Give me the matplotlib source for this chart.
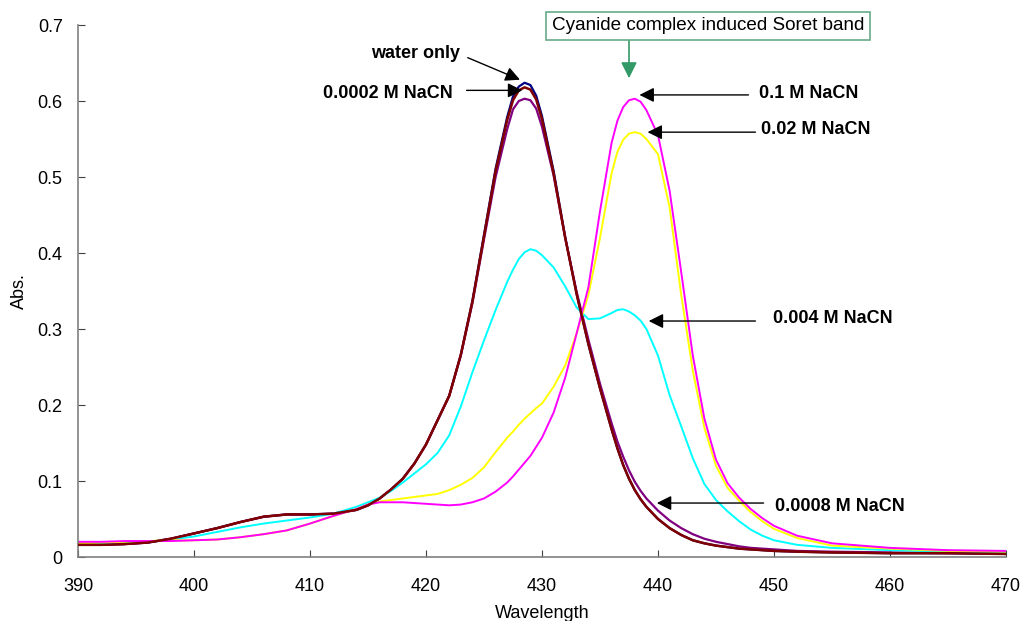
import numpy as np
import matplotlib
matplotlib.use("Agg")
import matplotlib.pyplot as plt

plt.rcParams['font.family'] = ['Liberation Sans', 'DejaVu Sans']

# wavelength grid (nm)
wavelength = [390, 392, 394, 396, 398, 400, 402, 404, 406, 408, 410, 412, 414,
              415, 416, 417, 418, 419, 420, 421, 422, 423, 424, 425, 426, 427,
              427.5, 428, 428.5, 429, 429.5, 430, 431, 432, 433, 434, 435, 436,
              436.5, 437, 437.5, 438, 438.5, 439, 440, 441, 442, 443, 444, 445,
              446, 447, 448, 449, 450, 452, 455, 460, 465, 470]

# absorbance per sample
water_only = [0.016, 0.016, 0.017, 0.019, 0.024, 0.031, 0.038, 0.046, 0.053, 0.056, 0.056, 0.057, 0.062,
              0.068, 0.077, 0.089, 0.103, 0.123, 0.148, 0.180, 0.212, 0.266, 0.337, 0.424, 0.511, 0.579,
              0.606, 0.619, 0.624, 0.621, 0.607, 0.580, 0.508, 0.421, 0.345, 0.280, 0.222, 0.168,
              0.143, 0.121, 0.103, 0.088, 0.076, 0.066, 0.050, 0.038, 0.029, 0.022, 0.018, 0.015,
              0.013, 0.011, 0.010, 0.009, 0.008, 0.007, 0.006, 0.005, 0.005, 0.004]
nacn_00002 = [0.016, 0.016, 0.017, 0.019, 0.024, 0.031, 0.038, 0.046, 0.053, 0.056, 0.056, 0.057, 0.062,
              0.068, 0.077, 0.089, 0.103, 0.123, 0.148, 0.180, 0.212, 0.266, 0.336, 0.422, 0.508, 0.575,
              0.601, 0.614, 0.618, 0.615, 0.602, 0.576, 0.505, 0.420, 0.345, 0.280, 0.222, 0.168,
              0.143, 0.121, 0.103, 0.088, 0.076, 0.066, 0.050, 0.038, 0.029, 0.022, 0.018, 0.015,
              0.013, 0.011, 0.010, 0.009, 0.008, 0.007, 0.006, 0.005, 0.005, 0.004]
nacn_00008 = [0.016, 0.016, 0.017, 0.019, 0.024, 0.031, 0.038, 0.046, 0.053, 0.056, 0.056, 0.057, 0.062,
              0.068, 0.077, 0.089, 0.103, 0.123, 0.148, 0.180, 0.212, 0.265, 0.334, 0.418, 0.500, 0.563,
              0.589, 0.600, 0.603, 0.601, 0.590, 0.566, 0.502, 0.420, 0.348, 0.286, 0.228, 0.176,
              0.152, 0.132, 0.114, 0.099, 0.087, 0.077, 0.061, 0.048, 0.038, 0.030, 0.024, 0.020,
              0.017, 0.014, 0.012, 0.011, 0.010, 0.008, 0.007, 0.006, 0.005, 0.005]
nacn_0004 = [0.018, 0.018, 0.019, 0.020, 0.023, 0.027, 0.033, 0.039, 0.044, 0.048, 0.052, 0.057, 0.066,
             0.072, 0.078, 0.087, 0.098, 0.110, 0.122, 0.137, 0.160, 0.198, 0.243, 0.285, 0.325, 0.362,
             0.378, 0.392, 0.401, 0.405, 0.403, 0.397, 0.381, 0.356, 0.328, 0.313, 0.314, 0.321,
             0.325, 0.326, 0.323, 0.318, 0.311, 0.300, 0.265, 0.213, 0.172, 0.130, 0.096, 0.075,
             0.060, 0.047, 0.036, 0.028, 0.022, 0.016, 0.012, 0.009, 0.007, 0.006]
nacn_002 = [0.018, 0.019, 0.020, 0.021, 0.022, 0.022, 0.023, 0.026, 0.030, 0.035, 0.044, 0.054, 0.063,
            0.069, 0.073, 0.075, 0.077, 0.079, 0.081, 0.083, 0.088, 0.095, 0.104, 0.118, 0.138, 0.157,
            0.165, 0.174, 0.182, 0.189, 0.196, 0.202, 0.224, 0.252, 0.295, 0.345, 0.420, 0.505,
            0.533, 0.549, 0.557, 0.559, 0.557, 0.550, 0.530, 0.460, 0.345, 0.245, 0.170, 0.120,
            0.091, 0.074, 0.059, 0.047, 0.037, 0.025, 0.015, 0.011, 0.008, 0.007]
nacn_01 = [0.020, 0.020, 0.021, 0.021, 0.021, 0.022, 0.023, 0.026, 0.030, 0.035, 0.044, 0.054, 0.063,
           0.069, 0.072, 0.072, 0.072, 0.071, 0.070, 0.069, 0.068, 0.069, 0.072, 0.077, 0.086, 0.098,
           0.106, 0.115, 0.124, 0.133, 0.145, 0.157, 0.190, 0.236, 0.295, 0.355, 0.455, 0.545,
           0.574, 0.592, 0.601, 0.603, 0.599, 0.588, 0.555, 0.482, 0.375, 0.265, 0.182, 0.128,
           0.097, 0.078, 0.063, 0.051, 0.041, 0.028, 0.018, 0.012, 0.009, 0.008]

xticks = [390, 400, 410, 420, 430, 440, 450, 460, 470]
yticks = [0, 0.1, 0.2, 0.3, 0.4, 0.5, 0.6, 0.7]
ytick_labels = ['0', '0.1', '0.2', '0.3', '0.4', '0.5', '0.6', '0.7']

fig = plt.figure(figsize=(10.32, 6.21), dpi=100)
ax = fig.add_axes([78 / 1032, 1 - 557 / 621, (1006 - 78) / 1032, (557 - 25) / 621])

# draw order: maroon ends up on top like in the original
ax.plot(wavelength, water_only, color='#000080', lw=1.6, zorder=2)
ax.plot(wavelength, nacn_00008, color='#800080', lw=1.6, zorder=2)
ax.plot(wavelength, nacn_0004, color='#00FFFF', lw=1.4, zorder=2)
ax.plot(wavelength, nacn_002, color='#FFFF00', lw=1.4, zorder=2)
ax.plot(wavelength, nacn_01, color='#FF00FF', lw=1.4, zorder=2)
ax.plot(wavelength, nacn_00002, color='#800000', lw=1.8, zorder=3)

ax.set_xlim(390, 470)
ax.set_ylim(0, 0.7)
ax.set_xticks(xticks)
ax.set_yticks(yticks)
ax.set_yticklabels(ytick_labels)

for s in ['top', 'right']:
    ax.spines[s].set_visible(False)
for s in ['left', 'bottom']:
    ax.spines[s].set_color('#808080')
    ax.spines[s].set_linewidth(1.2)

ax.tick_params(axis='x', direction='in', length=5, color='#404040', labelsize=13, pad=15)
ax.tick_params(axis='y', direction='in', length=5, color='#404040', labelsize=13, pad=11)
ax.set_xlabel('Wavelength', fontsize=13, labelpad=7)
ax.set_ylabel('Abs.', fontsize=13, labelpad=7)

arrow = dict(arrowstyle='-|>', color='black', lw=1.0, mutation_scale=22, shrinkA=0, shrinkB=0)
fs = 13

ax.annotate('', xy=(428.1, 0.628), xytext=(423.6, 0.657), arrowprops=arrow, annotation_clip=False)
ax.text(419.1, 0.663, 'water only', ha='center', va='center', fontsize=fs, fontweight='bold')

ax.annotate('', xy=(428.3, 0.614), xytext=(423.5, 0.614), arrowprops=arrow, annotation_clip=False)
ax.text(416.7, 0.610, '0.0002 M NaCN', ha='center', va='center', fontsize=fs, fontweight='bold')

ax.annotate('', xy=(438.4, 0.608), xytext=(447.8, 0.608), arrowprops=arrow, annotation_clip=False)
ax.text(448.7, 0.610, '0.1 M NaCN', ha='left', va='center', fontsize=fs, fontweight='bold')

ax.annotate('', xy=(439.1, 0.559), xytext=(448.4, 0.559), arrowprops=arrow, annotation_clip=False)
ax.text(448.9, 0.562, '0.02 M NaCN', ha='left', va='center', fontsize=fs, fontweight='bold')

ax.annotate('', xy=(439.2, 0.3105), xytext=(448.4, 0.3105), arrowprops=arrow, annotation_clip=False)
ax.text(449.9, 0.314, '0.004 M NaCN', ha='left', va='center', fontsize=fs, fontweight='bold')

ax.annotate('', xy=(439.9, 0.071), xytext=(449.1, 0.071), arrowprops=arrow, annotation_clip=False)
ax.text(450.1, 0.067, '0.0008 M NaCN', ha='left', va='center', fontsize=fs, fontweight='bold')

# green callout box
ax.annotate('', xy=(437.5, 0.630), xytext=(437.5, 0.684),
            arrowprops=dict(arrowstyle='-|>', color='#339966', lw=1.2, mutation_scale=24,
                            shrinkA=0, shrinkB=0), annotation_clip=False)
ax.text(444.3, 0.699, 'Cyanide complex induced Soret band', ha='center', va='center',
        fontsize=13.6, clip_on=False, zorder=5,
        bbox=dict(boxstyle='square,pad=0.3', fc='white', ec='#66AA88', lw=1.2))

fig.savefig('out.png', dpi=100)
